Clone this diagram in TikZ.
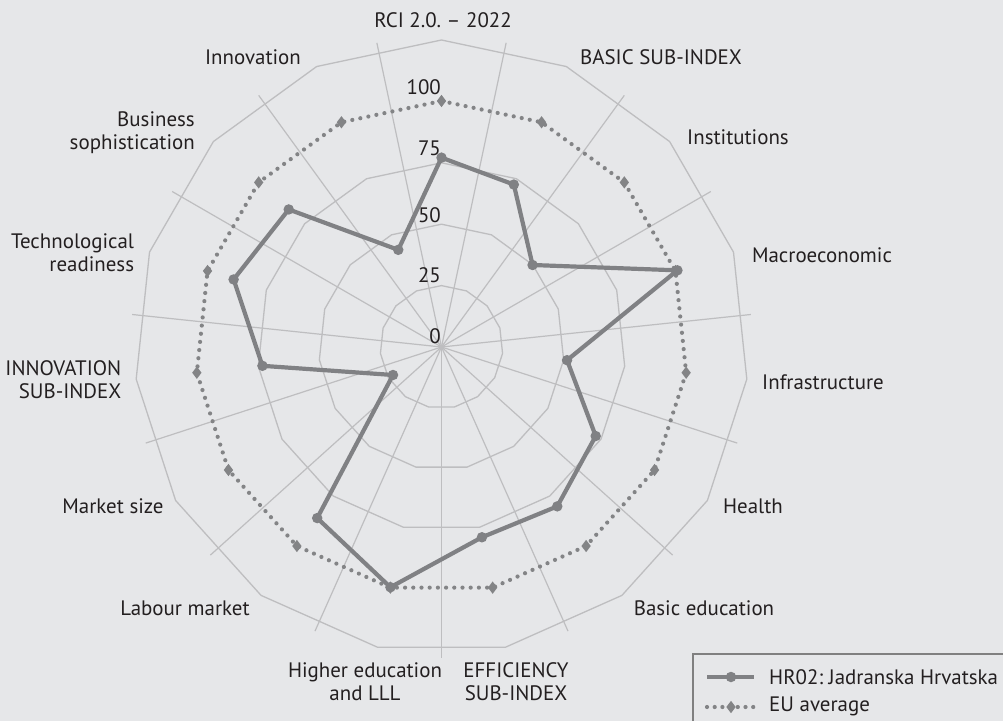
\documentclass[tikz,border=0pt]{standalone}
\usepackage{fontspec}
\setmainfont{PT Sans}
\usetikzlibrary{shapes.geometric}
\frenchspacing
\definecolor{bgc}{HTML}{E6E7E9}
\definecolor{gridc}{HTML}{BEBEC0}
\definecolor{hrc}{HTML}{808184}
\definecolor{euc}{HTML}{838486}
\definecolor{txtc}{HTML}{231F20}
\definecolor{legc}{HTML}{808080}
\tikzset{
  ring/.style={draw=gridc, line width=1.3bp},
  spoke/.style={draw=gridc, line width=1.2bp},
  hrline/.style={draw=hrc, line width=4.2bp, line join=round},
  hrmark/.style={circle, fill=hrc, inner sep=0pt, minimum size=10.5bp},
  euline/.style={draw=euc, line width=4.2bp, line cap=round, dash pattern=on 0bp off 8.2bp},
  eumark/.style={diamond, fill=euc, inner sep=0pt, minimum width=9.5bp, minimum height=12.5bp},
  lab/.style={text=txtc, inner sep=0pt, font=\fontsize{21}{23}\selectfont},
  ticklab/.style={lab, anchor=east},
}
\begin{document}
\begin{tikzpicture}[x=1bp,y=-1bp]
\fill[bgc] (0,0) rectangle (1003,721);
\useasboundingbox (0,0) rectangle (1003,721);
\coordinate (c) at (441.5,347);
\begin{scope}[shift={(441.5,347)}, yscale=-1]
  % rings
  \foreach \v in {25,50,75,125} {
    \draw[ring] (90:{2.456*\v}) \foreach \k in {1,...,14} { -- ({90-24*\k}:{2.456*\v}) } -- cycle;
  }
  % spokes
  \foreach \k in {0,...,14} {
    \coordinate (s\k) at ({78-24*\k}:311);
    \draw[spoke] (0,0) -- (s\k);
  }
  % EU average
  \foreach \k in {0,...,14} { \coordinate (e\k) at ({90-24*\k}:246); }
  \draw[euline] (e0) \foreach \k in {1,...,14} { -- (e\k) } -- cycle;
  \foreach \k in {0,...,14} { \node[eumark] (em\k) at (e\k) {}; }
  % HR02
  \foreach \v [count=\i from 0] in {77.1,72.4,49.9,101.0,51.4,72.5,80.2,79.2,100,86.1,22.8,73.3,89,83.7,43.3} {
    \coordinate (h\i) at ({90-24*\i}:{2.456*\v});
  }
  \draw[hrline] (h0) \foreach \k in {1,...,14} { -- (h\k) } -- cycle;
  \foreach \k in {0,...,14} { \node[hrmark] (hm\k) at (h\k) {}; }
\end{scope}
% tick labels
\node[ticklab] (t0) at (441,336) {0};
\node[ticklab] (t25) at (441,275) {25};
\node[ticklab] (t50) at (441,215) {50};
\node[ticklab] (t75) at (441,148) {75};
\node[ticklab] (t100) at (441,87) {100};
% category labels
\node[lab] (l0) at (443,20) {RCI 2.0. – 2022};
\node[lab] (l1) at (661,57) {BASIC SUB-INDEX};
\node[lab] (l2) at (738,137) {Institutions};
\node[lab] (l3) at (822,255) {Macroeconomic};
\node[lab] (l4) at (823,382) {Infrastructure};
\node[lab] (l5) at (753,506) {Health};
\node[lab] (l6) at (704,608) {Basic education};
\node[lab, align=center] (l7) at (516,682) {EFFICIENCY\\SUB-INDEX};
\node[lab, align=center] (l8) at (365,682) {Higher education\\and LLL};
\node[lab] (l9) at (185,608) {Labour market};
\node[lab] (l10) at (113,506) {Market size};
\node[lab, align=right, anchor=east] (l11) at (121.5,380) {INNOVATION\\SUB-INDEX};
\node[lab, align=right, anchor=east] (l12) at (134.3,253) {Technological\\readiness};
\node[lab, align=right, anchor=east] (l13) at (195,133) {Business\\sophistication};
\node[lab] (l14) at (253,57) {Innovation};
% legend
\coordinate (lg1) at (693,730);
\coordinate (lg2) at (1010,654);
\draw[legc, line width=2bp] (lg1) |- (lg2);
\coordinate (la) at (707,677);
\coordinate (lb) at (754,677);
\draw[hrline] (la) -- (lb);
\node[hrmark] (lhm) at (731,677) {};
\node[lab, anchor=west] (lht) at (769,677) {HR02: Jadranska Hrvatska};
\coordinate (lc) at (707,707);
\coordinate (ld) at (754,707);
\draw[euline, dash pattern=on 0bp off 7.7bp] (lc) -- (ld);
\node[eumark] (lem) at (731,707) {};
\node[lab, anchor=west] (let) at (769,706) {EU average};
\end{tikzpicture}
\end{document}
